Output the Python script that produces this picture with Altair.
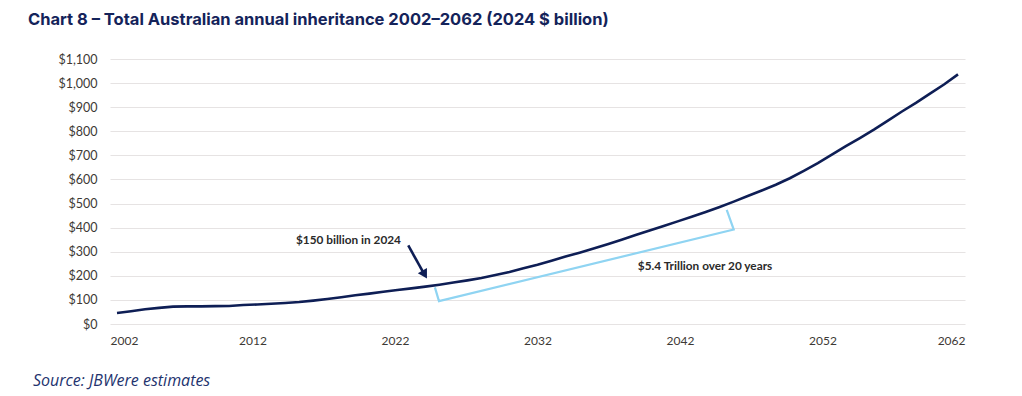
import altair as alt
import pandas as pd

# ---- data ----
years = list(range(2002, 2063))
inheritance = [46, 53, 61, 67, 72, 73, 73, 74, 75, 79,
               81, 84, 87, 91, 97, 104, 111, 119, 126, 134,
               141, 148, 155, 163, 172, 181, 191, 203, 216, 231,
               246, 263, 280, 296, 313, 331, 350, 369, 388, 407,
               426, 445, 465, 486, 508, 531, 554, 578, 605, 636,
               668, 703, 738, 772, 807, 844, 882, 918, 956, 994,
               1036]

tick_years = [2002, 2012, 2022, 2032, 2042, 2052, 2062]
y_ticks = [0, 100, 200, 300, 400, 500, 600, 700, 800, 900, 1000, 1100]

# annotation geometry in data units
bracket_year = [2024.68, 2024.97, 2046.0, 2045.5]
bracket_val = [152, 95, 392, 474]
arrow_year = [2022.78, 2023.9]
arrow_val = [326, 209]
head_year = [2023.95]
head_val = [205]
ann_year = [2014.77, 2039.16]
ann_val = [350, 239]
ann_text = ["$150 billion in 2024", "$5.4 Trillion over 20 years"]

TITLE = "Chart 8 – Total Australian annual inheritance 2002–2062 (2024 $ billion)"
SOURCE = "Source: JBWere estimates"

W, H = 855, 265
NAVY = "#0e1e55"
LIGHT = "#8fd4f2"
FONT = "Lato"

df = pd.DataFrame({"year": years, "value": inheritance})
br = pd.DataFrame({"year": bracket_year, "value": bracket_val, "o": list(range(len(bracket_year)))})
ar = pd.DataFrame({"year": arrow_year, "value": arrow_val, "o": [0, 1]})
hd = pd.DataFrame({"year": head_year, "value": head_val})
an = pd.DataFrame({"year": ann_year, "value": ann_val, "t": ann_text})
tk = pd.DataFrame({"year": [tick_years[0], tick_years[-1]]})
src = pd.DataFrame({"t": [SOURCE]})

xs = alt.Scale(domain=[2001.5, 2062.5], nice=False, zero=False)
ys = alt.Scale(domain=[0, 1100], nice=False)
y_axis = alt.Axis(values=y_ticks, format="$,.0f", domain=False, ticks=False,
                  labelPadding=13, labelFont=FONT, labelFontSize=12.5,
                  labelColor="#3d3935", gridColor="#e6e3e3", gridWidth=1.2)

X = lambda: alt.X("year:Q", scale=xs, axis=None)
Y = lambda: alt.Y("value:Q", scale=ys, title=None, axis=y_axis)

line = alt.Chart(df).mark_line(color=NAVY, strokeWidth=2.6).encode(x=X(), y=Y())

bracket = alt.Chart(br).mark_line(color=LIGHT, strokeWidth=2.2).encode(
    x=X(), y=Y(), order="o:Q")

arrow = alt.Chart(ar).mark_line(color=NAVY, strokeWidth=2.6).encode(
    x=X(), y=Y(), order="o:Q")

head = alt.Chart(hd).mark_point(shape="triangle-up", filled=True, color=NAVY,
                                size=110, angle=150, opacity=1).encode(x=X(), y=Y())

labels = alt.Chart(an).mark_text(align="left", baseline="middle", font=FONT,
                                 fontSize=11.8, fontWeight="bold", color="#2a2a2a").encode(
    x=X(), y=Y(), text="t:N")

source = alt.Chart(src).mark_text(align="left", baseline="middle", font="Open Sans",
                                  fontSize=16, fontStyle="italic", color="#23336e").encode(
    x=alt.value(-77), y=alt.value(H + 57), text="t:N")

data_layers = alt.layer(line, bracket, arrow, head, labels, source)

axis_layer = alt.Chart(tk).mark_point(opacity=0).encode(
    x=alt.X("year:Q", scale=alt.Scale(domain=[2002, 2062], nice=False, zero=False),
            title=None,
            axis=alt.Axis(values=tick_years, format="d", orient="bottom", grid=False,
                          domain=False, ticks=False, labelPadding=11, labelFont=FONT,
                          labelFontSize=12, labelColor="#3d3935"))
)

chart = alt.layer(data_layers, axis_layer).resolve_scale(x="independent").properties(
    width=W, height=H,
    autosize=alt.AutoSizeParams(type="none"),
    padding={"left": 102, "top": 51, "right": 41, "bottom": 68},
    title=alt.Title(TITLE, anchor="start", frame="group", dx=-82, offset=25,
                    font="Inter", fontSize=16.5, fontWeight="bold", color="#14235a"),
).configure_view(stroke=None)

chart.save("out.html", embed_options={"renderer": "svg", "actions": False})
